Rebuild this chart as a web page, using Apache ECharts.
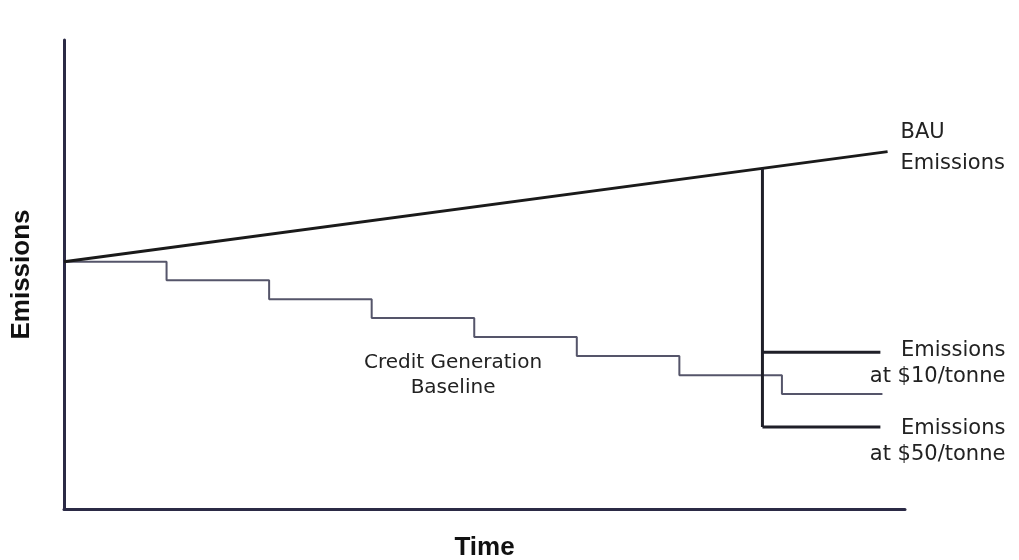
<!DOCTYPE html>
<html>
<head>
<meta charset="utf-8">
<script src="https://cdn.jsdelivr.net/npm/echarts@6/dist/echarts.min.js"></script>
<style>html,body{margin:0;padding:0;background:#fff}#c{width:1019px;height:560px}</style>
</head>
<body>
<div id="c"></div>
<script>
// Time (step periods) and emissions (relative units)
var bauTime = [0, 8.03];
var bauEmissions = [52.7, 76.2];
var baselineTime = [0, 1, 2, 3, 4, 5, 6, 7, 7.98];
var baselineEmissions = [52.7, 48.8, 44.7, 40.7, 36.7, 32.6, 28.5, 24.5, 24.5];
var abatementTime = 6.81;
var abatementTop = 72.6;
var labelEndTime = 7.96;
var emissions10 = 33.4;
var emissions50 = 17.5;
var axisMaxTime = 8.2;
var axisMaxEmissions = 100;

function pairs(xs, ys) { return xs.map(function (x, i) { return [x, ys[i]]; }); }

var font = 'DejaVu Sans';
function rightLabel(text, dy) {
  return {
    show: true, formatter: text, align: 'right', distance: 125, offset: [0, dy],
    fontFamily: font, fontSize: 21, lineHeight: 26, color: '#222'
  };
}

var chart = echarts.init(document.getElementById('c'));
chart.setOption({
  animation: false,
  grid: { left: 64, right: 114, top: 40, bottom: 51, containLabel: false, outerBoundsMode: 'none' },
  xAxis: {
    type: 'value', min: 0, max: axisMaxTime,
    name: 'Time', nameLocation: 'middle', nameGap: 26,
    nameTextStyle: { fontFamily: 'Liberation Sans', fontWeight: 'bold', fontSize: 26, color: '#111' },
    axisLine: { show: true, lineStyle: { color: '#2b2a45', width: 3 } },
    axisTick: { show: false }, axisLabel: { show: false }, splitLine: { show: false }
  },
  yAxis: {
    type: 'value', min: 0, max: axisMaxEmissions,
    name: 'Emissions', nameLocation: 'middle', nameGap: 29,
    nameTextStyle: { fontFamily: 'Liberation Sans', fontWeight: 'bold', fontSize: 26, color: '#111' },
    axisLine: { show: true, lineStyle: { color: '#2b2a45', width: 3 } },
    axisTick: { show: false }, axisLabel: { show: false }, splitLine: { show: false }
  },
  graphic: [{
    type: 'text', left: 364, top: 350,
    style: {
      text: 'Credit Generation\nBaseline', fontFamily: font, fontSize: 20, lineHeight: 25,
      fill: '#222', align: 'center', textAlign: 'center'
    }
  }],
  series: [
    {
      type: 'line', data: pairs(baselineTime, baselineEmissions), step: 'end',
      symbol: 'none', lineStyle: { color: '#55556a', width: 2 }, z: 2
    },
    {
      type: 'line', data: pairs(bauTime, bauEmissions), symbol: 'none',
      lineStyle: { color: '#1a1a1a', width: 3 },
      endLabel: {
        show: true, formatter: 'BAU\nEmissions', distance: 13, offset: [0, -4],
        fontFamily: font, fontSize: 21, lineHeight: 31, color: '#222'
      }
    },
    {
      type: 'line', data: [[abatementTime, abatementTop], [abatementTime, emissions50]],
      symbol: 'none', lineStyle: { color: '#1f1f28', width: 3 }
    },
    {
      type: 'line', data: [[abatementTime, emissions10], [labelEndTime, emissions10]],
      symbol: 'none', lineStyle: { color: '#1f1f28', width: 3 },
      endLabel: rightLabel('Emissions\nat $10/tonne', 11)
    },
    {
      type: 'line', data: [[abatementTime, emissions50], [labelEndTime, emissions50]],
      symbol: 'none', lineStyle: { color: '#1f1f28', width: 3 },
      endLabel: rightLabel('Emissions\nat $50/tonne', 15)
    }
  ]
});
</script>
</body>
</html>
